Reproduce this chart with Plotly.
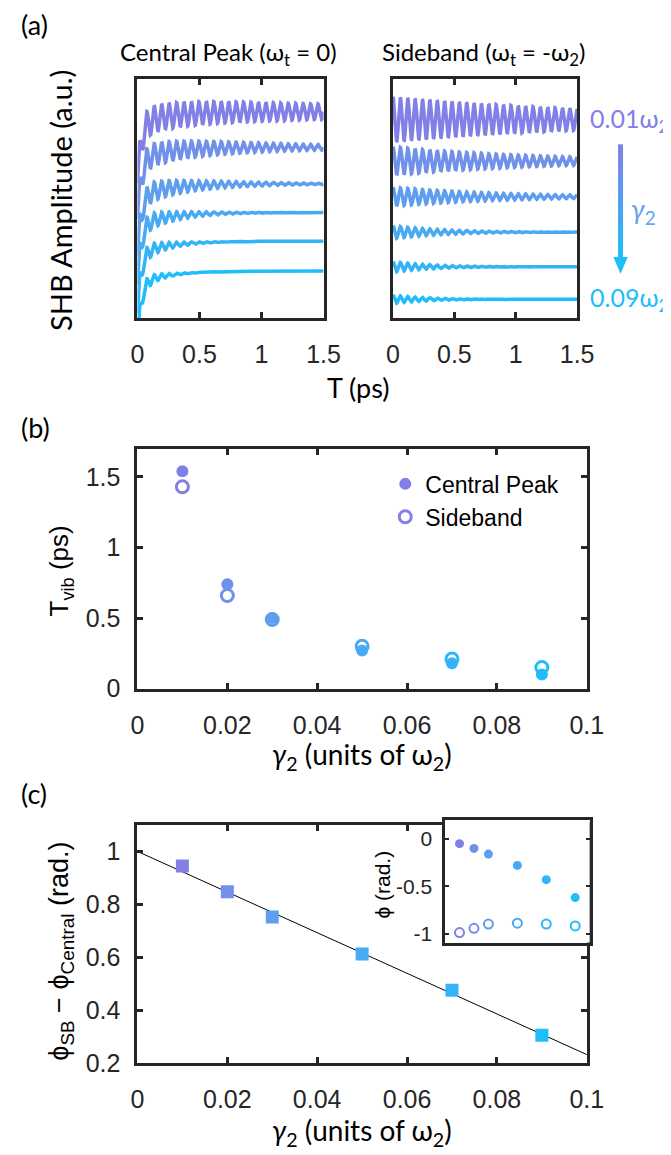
import numpy as np
import plotly.graph_objects as go

W, H = 671, 1155
def X(p): return p / W
def Y(p): return 1 - p / H

# ---------------- data ----------------
gamma = [0.01, 0.02, 0.03, 0.05, 0.07, 0.09]          # units of omega_2
tvib_central = [1.54, 0.74, 0.50, 0.27, 0.18, 0.10]   # ps
tvib_sideband = [1.43, 0.66, 0.49, 0.30, 0.21, 0.15]  # ps
phase_diff = [0.945, 0.848, 0.752, 0.612, 0.475, 0.305]  # rad
fit_x = [0.0, 0.1]
fit_y = [1.0, 0.232]
phi_central = [-0.05, -0.10, -0.16, -0.28, -0.43, -0.62]
phi_sideband = [-0.99, -0.945, -0.90, -0.89, -0.90, -0.92]

# panel (a): traces (arbitrary units)
cp_level = [8.64, 7.15, 5.62, 4.42, 3.22, 1.98]
cp_amp = [0.60, 0.55, 0.50, 0.46, 0.43, 0.40]
cp_decay = [2.4, 0.95, 0.55, 0.33, 0.22, 0.15]
cp_rise = 2.5
cp_rise_time = 0.03
cp_slow = 0.5
cp_slow_time = 0.25
sb_level = [8.31, 6.57, 5.08, 3.60, 2.15, 0.79]
sb_amp = [0.95, 0.60, 0.40, 0.27, 0.22, 0.18]
sb_decay = [2.0, 1.2, 0.9, 0.45, 0.35, 0.30]
osc_period = 0.06  # ps
T = np.linspace(0, 1.5, 1501)

xticks_a = [0, 0.5, 1, 1.5]
xticks_bc = [0, 0.02, 0.04, 0.06, 0.08, 0.1]
yticks_b = [0, 0.5, 1, 1.5]
yticks_c = [0.2, 0.4, 0.6, 0.8, 1.0]
yticks_in = [0, -0.5, -1]

cols = ['#8280E6', '#7190EA', '#5D9EEE', '#47AAF2', '#33B4F6', '#1FBEFA']
frame = '#262626'
arial = 'Liberation Sans'
lab = 'Lato'
tickfont = dict(family=arial, size=25, color=frame)

fig = go.Figure()

for i in range(6):
    osc = cp_amp[i] * np.exp(-T / cp_decay[i]) * np.sin(2 * np.pi * T / osc_period)
    y = cp_level[i] - cp_rise * np.exp(-T / cp_rise_time) - cp_slow * np.exp(-T / cp_slow_time) + osc
    fig.add_trace(go.Scatter(x=T, y=y, mode='lines', line=dict(color=cols[i], width=3.5),
                             xaxis='x', yaxis='y', showlegend=False, hoverinfo='skip'))
    osc2 = sb_amp[i] * np.exp(-T / sb_decay[i]) * np.cos(2 * np.pi * T / osc_period)
    fig.add_trace(go.Scatter(x=T, y=np.array(sb_level[i]) + osc2, mode='lines',
                             line=dict(color=cols[i], width=3.5),
                             xaxis='x2', yaxis='y2', showlegend=False, hoverinfo='skip'))

# panel (b)
fig.add_trace(go.Scatter(x=gamma, y=tvib_central, mode='markers', name='Central Peak',
                         marker=dict(symbol='circle', size=12, color=cols),
                         xaxis='x3', yaxis='y3'))
fig.add_trace(go.Scatter(x=gamma, y=tvib_sideband, mode='markers', name='Sideband',
                         marker=dict(symbol='circle-open', size=12, color=cols, line=dict(width=3)),
                         xaxis='x3', yaxis='y3'))

# panel (c)
fig.add_trace(go.Scatter(x=fit_x, y=fit_y, mode='lines', line=dict(color='black', width=1),
                         xaxis='x4', yaxis='y4', showlegend=False))
fig.add_trace(go.Scatter(x=gamma, y=phase_diff, mode='markers',
                         marker=dict(symbol='square', size=13, color=cols),
                         xaxis='x4', yaxis='y4', showlegend=False))
# inset
fig.add_trace(go.Scatter(x=gamma, y=phi_central, mode='markers',
                         marker=dict(symbol='circle', size=9, color=cols),
                         xaxis='x5', yaxis='y5', showlegend=False))
fig.add_trace(go.Scatter(x=gamma, y=phi_sideband, mode='markers',
                         marker=dict(symbol='circle-open', size=9, color=cols, line=dict(width=2)),
                         xaxis='x5', yaxis='y5', showlegend=False))

def xax(dom, rng, tv, tt, standoff=12, **kw):
    d = dict(domain=dom, range=rng, tickvals=tv, ticktext=tt, ticks='inside', ticklen=6,
             tickwidth=2.5, tickcolor=frame, showline=True, linewidth=3, linecolor=frame,
             mirror='ticks', showgrid=False, zeroline=False, tickfont=tickfont,
             ticklabelstandoff=standoff)
    d.update(kw)
    return d

dom_a = [Y(314), Y(72)]
dom_b = [Y(689), Y(446)]
dom_c = [Y(1068), Y(827)]
fig.update_layout(
    width=W, height=H, margin=dict(l=0, r=0, t=0, b=0),
    paper_bgcolor='white', plot_bgcolor='white',
    font=dict(family=arial),
    xaxis=xax([X(127), X(320)], [0, 1.5], xticks_a, ['0', '0.5', '1', '1.5'], anchor='y'),
    yaxis=dict(domain=dom_a, range=[0, 10], showticklabels=False, ticks='', showline=True,
               linewidth=3, linecolor=frame, mirror=True, showgrid=False, zeroline=False, anchor='x'),
    xaxis2=xax([X(392), X(583)], [0, 1.5], xticks_a, ['0', '0.5', '1', '1.5'], anchor='y2'),
    yaxis2=dict(domain=dom_a, range=[0, 10], showticklabels=False, ticks='', showline=True,
                linewidth=3, linecolor=frame, mirror=True, showgrid=False, zeroline=False, anchor='x2'),
    xaxis3=xax([X(127), X(593)], [0, 0.1], xticks_bc, ['0', '0.02', '0.04', '0.06', '0.08', '0.1'], anchor='y3'),
    yaxis3=xax(dom_b, [0, 1.7], yticks_b, ['0', '0.5', '1', '1.5'], standoff=9, anchor='x3'),
    xaxis4=xax([X(127), X(593)], [0, 0.1], xticks_bc, ['0', '0.02', '0.04', '0.06', '0.08', '0.1'], anchor='y4'),
    yaxis4=xax(dom_c, [0.2, 1.1], yticks_c, ['0.2', '0.4', '0.6', '0.8', '1'], standoff=9, anchor='x4'),
    xaxis5=dict(domain=[X(446), X(596)], range=[0, 0.1], showticklabels=False, ticks='',
                showline=True, linewidth=2.5, linecolor=frame, mirror=True, showgrid=False,
                zeroline=False, anchor='y5'),
    yaxis5=xax([Y(946), Y(822)], [-1.095, 0.2], yticks_in, ['0', '-0.5', '-1'], standoff=6,
               anchor='x5', linewidth=2.5, ticklen=4, tickwidth=2,
               tickfont=dict(family=arial, size=21, color=frame)),
    legend=dict(x=X(384), y=Y(460), xanchor='left', yanchor='top', bgcolor='rgba(0,0,0,0)',
                font=dict(family=arial, size=23, color='black'),
                itemsizing='trace', tracegroupgap=0),
)

ann = []
def A(text, x, y, size, family=lab, color='black', angle=0, xanchor='center', **kw):
    ann.append(dict(text=text, x=X(x), y=Y(y), xref='paper', yref='paper', showarrow=False,
                    font=dict(family=family, size=size, color=color), textangle=angle,
                    xanchor=xanchor, yanchor='middle', **kw))

A('(a)', 4, 17, 27, xanchor='left')
A('(b)', 4, 425, 27, xanchor='left')
A('(c)', 4, 795, 27, xanchor='left')
A('Central Peak (ω<sub>t</sub> = 0)', 221, 46, 24)
A('Sideband (ω<sub>t</sub> = -ω<sub>2</sub>)', 486, 46, 24)
A('SHB Amplitude (a.u.)', 47, 195, 29, angle=-90)
A('T (ps)', 356, 384, 27)
A('0.01ω<sub>2</sub>', 594, 113, 25, color=cols[0], xanchor='left')
A('0.09ω<sub>2</sub>', 594, 295, 25, color=cols[5], xanchor='left')
A('<i>γ</i><sub>2</sub>', 652, 205, 27, color='#68A0EE')
A('T<sub>vib</sub> (ps)', 47, 570, 26, family=arial, angle=-90)
A('<i>γ</i><sub>2</sub> (units of ω<sub>2</sub>)', 360, 757, 28)
A('<i>γ</i><sub>2</sub> (units of ω<sub>2</sub>)', 360, 1138, 28)
A('ϕ<sub>SB</sub> − ϕ<sub>Central</sub> (rad.)', 48, 955, 27, family=arial, angle=-90)
A('ϕ (rad.)', 381, 887, 21, family=arial, angle=-90)
fig.update_layout(annotations=ann)

# gradient arrow (decoration)
def hex2rgb(h):
    h = h.lstrip('#'); return [int(h[k:k + 2], 16) for k in (0, 2, 4)]
c0, c1 = hex2rgb(cols[0]), hex2rgb(cols[5])
shapes = []
n = 16
y0, y1 = 138, 255
for k in range(n):
    t = k / (n - 1)
    c = [int(round(c0[j] + (c1[j] - c0[j]) * t)) for j in range(3)]
    ya = y0 + (y1 - y0) * k / n
    yb = y0 + (y1 - y0) * (k + 1) / n + 0.5
    shapes.append(dict(type='line', xref='paper', yref='paper', x0=X(628), x1=X(628),
                       y0=Y(ya), y1=Y(yb), line=dict(color='rgb(%d,%d,%d)' % tuple(c), width=5)))
shapes.append(dict(type='path', xref='paper', yref='paper',
                   path='M %f,%f L %f,%f L %f,%f Z' % (X(620.5), Y(252), X(635.5), Y(252), X(628), Y(269)),
                   fillcolor='rgb(%d,%d,%d)' % tuple(c1), line=dict(width=0)))
fig.update_layout(shapes=shapes)

fig.write_html('out.html')
